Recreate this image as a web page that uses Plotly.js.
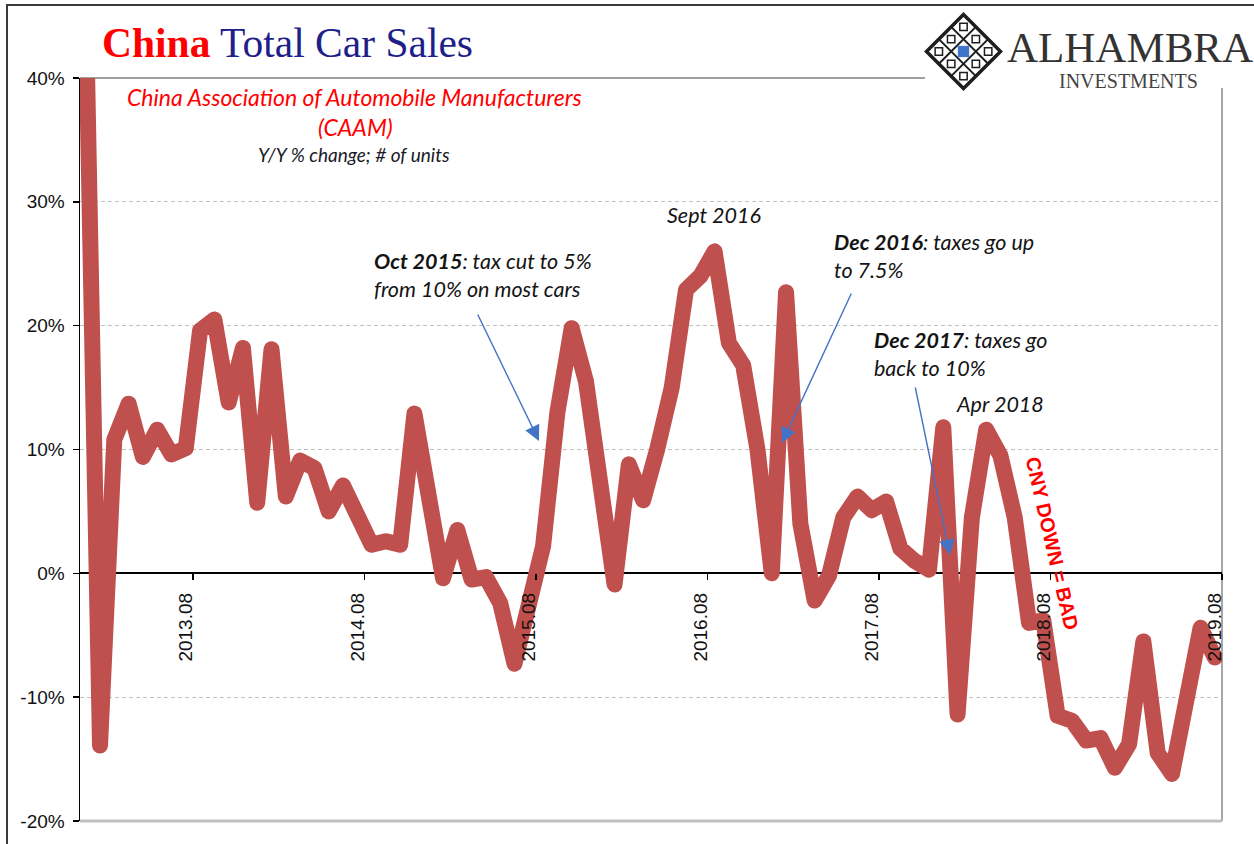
<!DOCTYPE html>
<html>
<head>
<meta charset="utf-8">
<script src="https://cdn.plot.ly/plotly-3.0.1.min.js"></script>
<style>
html,body{margin:0;padding:0;background:#fff;}
#chart{width:1254px;height:844px;}
</style>
</head>
<body>
<div id="chart"></div>
<script>
// Y/Y % change, China total vehicle sales (CAAM)
const yoy2013 = [46, -13.9, 10.8, 13.7, 9.4, 11.6, 9.6, 10.1, 19.6, 20.5, 13.8, 18.2];
const yoy2014 = [5.7, 18.1, 6.2, 9.1, 8.5, 5.0, 7.1, 4.3, 2.3, 2.6, 2.3, 12.9];
const yoy2015 = [7.0, -0.4, 3.5, -0.5, -0.3, -2.4, -7.3, -3.0, 2.2, 13.0, 19.8, 15.5];
const yoy2016 = [7.2, -0.9, 8.8, 5.9, 10.1, 15.0, 22.9, 24.0, 26.0, 18.6, 16.8, 10.0];
const yoy2017 = [0.0, 22.7, 4.0, -2.2, -0.2, 4.5, 6.2, 5.1, 5.8, 2.0, 1.0, 0.3];
const yoy2018 = [11.8, -11.4, 4.5, 11.6, 9.5, 4.5, -4.0, -3.8, -11.5, -11.9, -13.5, -13.3];
const yoy2019 = [-15.7, -13.8, -5.5, -14.5, -16.2, -9.8, -4.4, -6.8];

const startYear = 2013;
const series = [].concat(yoy2013, yoy2014, yoy2015, yoy2016, yoy2017, yoy2018, yoy2019);
const monthLabels = series.map((_, i) => (startYear + Math.floor(i / 12)) + '.' + String(i % 12 + 1).padStart(2, '0'));
const xIdx = series.map((_, i) => i);

const tickLabels = ['2013.08', '2014.08', '2015.08', '2016.08', '2017.08', '2018.08', '2019.08'];
const tickPos = tickLabels.map(l => monthLabels.indexOf(l) + 0.5);
const yTicks = [-20, -10, 0, 10, 20, 30, 40];
const yTickText = yTicks.map(v => v + '%');

(function(){
// pixel -> paper helpers (plot area 80..1222 x 78..821)
const L = 80, R = 1222, T = 78, B = 821;
const px = x => (x - L) / (R - L);
const py = y => (B - y) / (B - T);

const shapes = [];
shapes.push({type:'rect', xref:'paper', yref:'paper', x0:px(7), x1:px(1262), y0:py(5), y1:py(852),
  line:{color:'#3a3a3a', width:2}, fillcolor:'rgba(0,0,0,0)', layer:'below'});
shapes.push({type:'line', xref:'paper', yref:'paper', x0:px(80), x1:px(925), y0:py(78), y1:py(78), line:{color:'#7f7f7f', width:1.5}, layer:'below'});
shapes.push({type:'line', xref:'paper', yref:'paper', x0:px(1222), x1:px(1222), y0:py(88), y1:py(821), line:{color:'#a6a6a6', width:2}, layer:'below'});
shapes.push({type:'line', xref:'paper', yref:'paper', x0:px(80), x1:px(1222), y0:py(821), y1:py(821), line:{color:'#bfbfbf', width:3}, layer:'below'});

// logo diamond
const cx = 963.5, cy = 51.5, rr = 37;
const dTop = [cx, cy - rr], dRight = [cx + rr, cy], dLeft = [cx - rr, cy];
function P(u, v){ return [dTop[0] + u*(dRight[0]-dTop[0]) + v*(dLeft[0]-dTop[0]), dTop[1] + u*(dRight[1]-dTop[1]) + v*(dLeft[1]-dTop[1])]; }
function pathOf(pts, close){ return pts.map((p,i)=> (i?'L':'M') + px(p[0]).toFixed(5) + ',' + py(p[1]).toFixed(5)).join(' ') + (close?' Z':''); }
shapes.push({type:'path', xref:'paper', yref:'paper', path:pathOf([P(0,0),P(1,0),P(1,1),P(0,1)], true), line:{color:'#1e1e1e', width:3.5}, fillcolor:'#fff', layer:'above'});
[1/3, 2/3].forEach(t => {
  shapes.push({type:'path', xref:'paper', yref:'paper', path:pathOf([P(t,0),P(t,1)]), line:{color:'#1e1e1e', width:2}, layer:'above'});
  shapes.push({type:'path', xref:'paper', yref:'paper', path:pathOf([P(0,t),P(1,t)]), line:{color:'#1e1e1e', width:2}, layer:'above'});
});
shapes.push({type:'path', xref:'paper', yref:'paper', path:pathOf([P(0.5,0.36),P(0.64,0.5),P(0.5,0.64),P(0.36,0.5)], true), line:{color:'#3b6fc4', width:1}, fillcolor:'#3f74c9', layer:'above'});
[[1/6,1/6],[1/2,1/6],[5/6,1/6],[1/6,1/2],[5/6,1/2],[1/6,5/6],[1/2,5/6],[5/6,5/6]].forEach(([u,v]) => {
  shapes.push({type:'path', xref:'paper', yref:'paper', path:pathOf([P(u,v-0.1),P(u+0.1,v),P(u,v+0.1),P(u-0.1,v)], true), line:{color:'#1e1e1e', width:1.5}, fillcolor:'#fff', layer:'above'});
});

const annFont = {family:'Lato, "Open Sans", sans-serif', size:21.5, color:'#141414'};
function ann(x, y, text, opts){
  return Object.assign({xref:'paper', yref:'paper', x:px(x), y:py(y), text:text, showarrow:false,
    xanchor:'center', yanchor:'middle', font:annFont}, opts || {});
}
function arrow(tipX, tipY, tailX, tailY){
  return {xref:'paper', yref:'paper', x:px(tipX), y:py(tipY), ax:tailX - tipX, ay:tailY - tipY,
    axref:'pixel', ayref:'pixel', text:'', showarrow:true, arrowhead:2, arrowsize:2.2, arrowwidth:1.4,
    arrowcolor:'#4472c4', standoff:0, startstandoff:0};
}

const annotations = [
  ann(100, 43, '<b><span style="color:#ff0000">China</span></b> <span style="color:#1f1f8a">Total Car Sales</span>',
      {xanchor:'left', font:{family:'"Liberation Serif", "Times New Roman", serif', size:41.5, color:'#1f1f8a'}}),
  ann(1130, 47, 'ALHAMBRA', {font:{family:'"Liberation Serif", serif', size:43, color:'#333'}}),
  ann(1128, 81, 'INVESTMENTS', {font:{family:'"Liberation Serif", serif', size:20, color:'#444'}}),
  ann(354, 97, '<i>China Association of Automobile Manufacturers</i>', {font:{family:'Lato, sans-serif', size:23, color:'#ff0000'}}),
  ann(355, 127, '<i>(CAAM)</i>', {font:{family:'Lato, sans-serif', size:23, color:'#ff0000'}}),
  ann(354, 155, '<i>Y/Y % change; # of units</i>', {font:{family:'Lato, sans-serif', size:19, color:'#1a1a2a'}}),
  ann(372, 275, '<i><b>Oct 2015</b>: tax cut to 5%<br>from 10% on most cars</i>', {xanchor:'left', align:'left'}),
  ann(714, 215, '<i>Sept 2016</i>'),
  ann(832, 256, '<i><b>Dec 2016</b>: taxes go up<br>to 7.5%</i>', {xanchor:'left', align:'left'}),
  ann(872, 354, '<i><b>Dec 2017</b>: taxes go<br>back to 10%</i>', {xanchor:'left', align:'left'}),
  ann(1000, 404, '<i>Apr 2018</i>'),
  ann(1052, 543, '<b>CNY DOWN = BAD</b>', {textangle:77, font:{family:'"Liberation Sans", Arial, sans-serif', size:20, color:'#ff0000'}}),
  arrow(539, 441, 477, 313),
  arrow(782, 443, 852, 292),
  arrow(950, 555, 915, 386)
];

const trace = {
  x: xIdx, y: series, customdata: monthLabels, type:'scatter', mode:'lines',
  line:{color:'#c0504d', width:16, shape:'linear'}, hoverinfo:'skip'
};

const tickFont = {family:'"Liberation Sans Narrow", "Arial Narrow", "Liberation Sans", Arial, sans-serif', size:19, color:'#111'};

const layout = {
  width:1254, height:844,
  margin:{l:80, r:32, t:78, b:23, pad:0},
  paper_bgcolor:'#fff', plot_bgcolor:'#fff',
  showlegend:false,
  xaxis:{
    range:[-0.4, 79.5], anchor:'free', position:1/3,
    showline:false, zeroline:false, showgrid:false,
    tickmode:'array', tickvals:tickPos, ticktext:tickLabels,
    ticks:'outside', ticklen:6, tickwidth:1.5, tickcolor:'#000',
    tickangle:-90, ticklabelshift:-7, ticklabelstandoff:5,
    tickfont:tickFont, layer:'above traces', fixedrange:true
  },
  yaxis:{
    range:[-20, 40], tickmode:'array', tickvals:yTicks, ticktext:yTickText,
    ticks:'outside', ticklen:6, tickwidth:1.5, tickcolor:'#000',
    showline:true, linecolor:'#000', linewidth:1.5,
    showgrid:true, gridcolor:'#bfbfbf', gridwidth:1, griddash:'4px,3px',
    zeroline:true, zerolinecolor:'#000', zerolinewidth:2,
    layer:'below traces', tickfont:tickFont, ticklabelstandoff:4, fixedrange:true
  },
  shapes:shapes,
  annotations:annotations
};

Plotly.newPlot('chart', [trace], layout, {displayModeBar:false, staticPlot:true}).then(gd => {
  gd.querySelectorAll('.scatterlayer path.js-line').forEach(p => {
    p.style.strokeLinejoin = 'round';
    p.style.strokeLinecap = 'round';
  });
});
})();
</script>
</body>
</html>
